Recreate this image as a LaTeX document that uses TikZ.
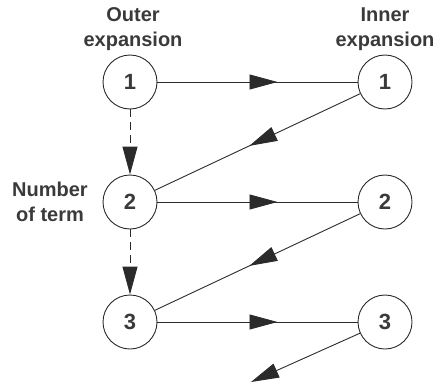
\documentclass[tikz,border=0pt]{standalone}
\usepackage{fontspec}
\setmainfont{Liberation Sans}
\usetikzlibrary{arrows.meta,decorations.markings}
\definecolor{ink}{HTML}{2B2B2B}
\definecolor{txt}{HTML}{3A3A3A}
\tikzset{bigtri/.tip={Triangle[length=28pt,width=15pt]}}
\begin{document}
\begin{tikzpicture}[x=1pt,y=-1pt,
  term/.style={circle,draw=ink,line width=0.9pt,minimum size=54pt,inner sep=0pt,
    font=\fontsize{22}{22}\selectfont\bfseries,text=txt},
  lbl/.style={align=center,font=\fontsize{20}{25}\selectfont\bfseries,text=txt,inner sep=0pt,anchor=base},
  flow/.style={draw=ink,line width=0.9pt,postaction={decorate},
    decoration={markings,mark=at position #1 with {\arrow{bigtri}}}},
  order/.style={draw=ink,line width=0.9pt,dash pattern=on 8pt off 5pt,-{bigtri}}
]
\useasboundingbox (0,0) rectangle (439,383);
\node[term] (o1) at (130,82) {1};
\node[term] (o2) at (130,202) {2};
\node[term] (o3) at (130,322) {3};
\node[term] (i1) at (385,82) {1};
\node[term] (i2) at (385,202) {2};
\node[term] (i3) at (385,322) {3};
\coordinate (end) at (251,382);
\node[lbl] (outer) at (133,46) {Outer\\expansion};
\node[lbl] (inner) at (385,46) {Inner\\expansion};
\node[lbl] (num) at (50,221) {Number\\of term};
\draw[flow=0.6] (o1) -- (i1);
\draw[flow=0.6] (o2) -- (i2);
\draw[flow=0.6] (o3) -- (i3);
\draw[flow=0.54] (i1) -- (o2);
\draw[flow=0.54] (i2) -- (o3);
\draw[draw=ink,line width=0.9pt,-{bigtri}] (i3) -- (end);
\draw[order] (o1) -- (o2);
\draw[order] (o2) -- (o3);
\end{tikzpicture}
\end{document}
